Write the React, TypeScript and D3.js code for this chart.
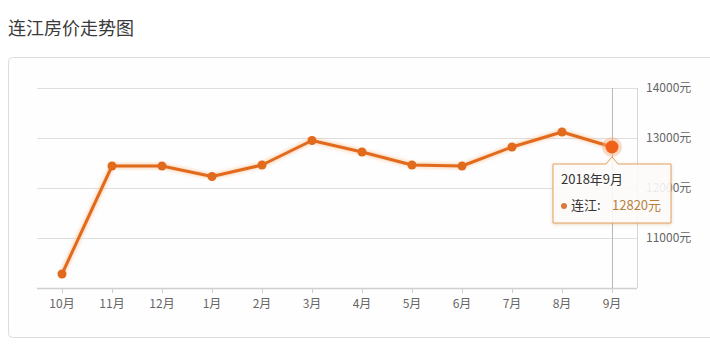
import React from "react";
import * as d3 from "d3";

const months = ["10月", "11月", "12月", "1月", "2月", "3月", "4月", "5月", "6月", "7月", "8月", "9月"];
const prices = [10280, 12440, 12440, 12230, 12460, 12950, 12720, 12460, 12440, 12820, 13120, 12820];
const yTicks = [11000, 12000, 13000, 14000];
const title = "连江房价走势图";
const seriesName = "连江";
const tooltipTitle = "2018年9月";
const activeIndex = 11;

const W = 710;
const H = 356;
const FONT = '"Noto Sans CJK SC", "Microsoft YaHei", sans-serif';
const LINE = "#e26a1d";

export default function App() {
  const x = d3.scaleBand<string>().domain(months).range([37, 637]).padding(0);
  const cx = (m: string) => (x(m) as number) + x.bandwidth() / 2;
  const y = d3.scaleLinear().domain([10000, 14000]).range([288, 88]);
  const line = d3
    .line<number>()
    .x((_, i) => cx(months[i]))
    .y((d) => y(d));
  const path = line(prices) || "";

  const ax = cx(months[activeIndex]);
  const ay = y(prices[activeIndex]);
  // tooltip box
  const tl = ax - 59, tr = ax + 59, tt = ay + 17, tb = ay + 76;
  const tipPath = `M${tl},${tt} L${ax - 6},${tt} L${ax},${tt - 7} L${ax + 6},${tt} L${tr},${tt} L${tr},${tb} L${tl},${tb} Z`;

  return (
    <div style={{ position: "absolute", left: 0, top: 0 }}>
      <svg width={W} height={H} style={{ display: "block", fontFamily: FONT }}>
        <defs>
          <filter id="tipShadow" x="-20%" y="-20%" width="140%" height="150%">
            <feDropShadow dx="0" dy="1" stdDeviation="1.5" floodColor="#c08040" floodOpacity="0.35" />
          </filter>
          <filter id="glow" x="-10%" y="-10%" width="120%" height="120%">
            <feGaussianBlur stdDeviation="1.5" />
          </filter>
        </defs>
        <rect width={W} height={H} fill="#ffffff" />
        <text x={8} y={35} fontSize={18} fill="#3a3a3a">{title}</text>
        <rect x={8.5} y={57.5} width={720} height={280} rx={4} fill="#fefefe" stroke="#dcdcdc" />

        {yTicks.map((t) => (
          <line key={t} x1={37} x2={637} y1={y(t) + 0.5} y2={y(t) + 0.5} stroke="#dedede" strokeWidth={1} />
        ))}
        <line x1={637.5} x2={637.5} y1={88} y2={288} stroke="#d6d6d6" />
        <line x1={37} x2={637} y1={288.5} y2={288.5} stroke="#d0d0d0" strokeWidth={1.5} />
        {months.map((m) => (
          <line key={m} x1={cx(m) + 0.5} x2={cx(m) + 0.5} y1={289} y2={293} stroke="#d0d0d0" />
        ))}
        {months.map((m) => (
          <text key={m} x={cx(m)} y={308} fontSize={12} fill="#666" textAnchor="middle">{m}</text>
        ))}
        {yTicks.map((t) => (
          <text key={t} x={646} y={y(t) + 4} fontSize={12} fill="#666">{`${t}元`}</text>
        ))}

        <line x1={ax + 0.5} x2={ax + 0.5} y1={88} y2={288} stroke="#b8b8b8" />

        <path d={path} fill="none" stroke="#f7b27c" strokeWidth={6} strokeOpacity={0.45} filter="url(#glow)" />
        <path d={path} fill="none" stroke={LINE} strokeWidth={3} strokeLinejoin="round" />
        {prices.map((p, i) =>
          i === activeIndex ? null : (
            <circle key={i} cx={cx(months[i])} cy={y(p)} r={4.5} fill={LINE} />
          )
        )}
        <circle cx={ax} cy={ay} r={10} fill="#f8b080" opacity={0.45} />
        <circle cx={ax} cy={ay} r={6.5} fill="#f0621a" />

        <path d={tipPath} fill="#ffffff" fillOpacity={0.85} stroke="#e3a060" strokeWidth={1} filter="url(#tipShadow)" />
        <text x={tl + 8} y={tt + 20} fontSize={13} fill="#333">{tooltipTitle}</text>
        <circle cx={tl + 11} cy={tt + 42} r={3} fill="#d97a3a" />
        <text x={tl + 18} y={tt + 46} fontSize={13} fill="#333">{`${seriesName}:`}</text>
        <text x={tl + 59} y={tt + 46} fontSize={13} fill="#b8803e">{`${prices[activeIndex]}元`}</text>
      </svg>
    </div>
  );
}
